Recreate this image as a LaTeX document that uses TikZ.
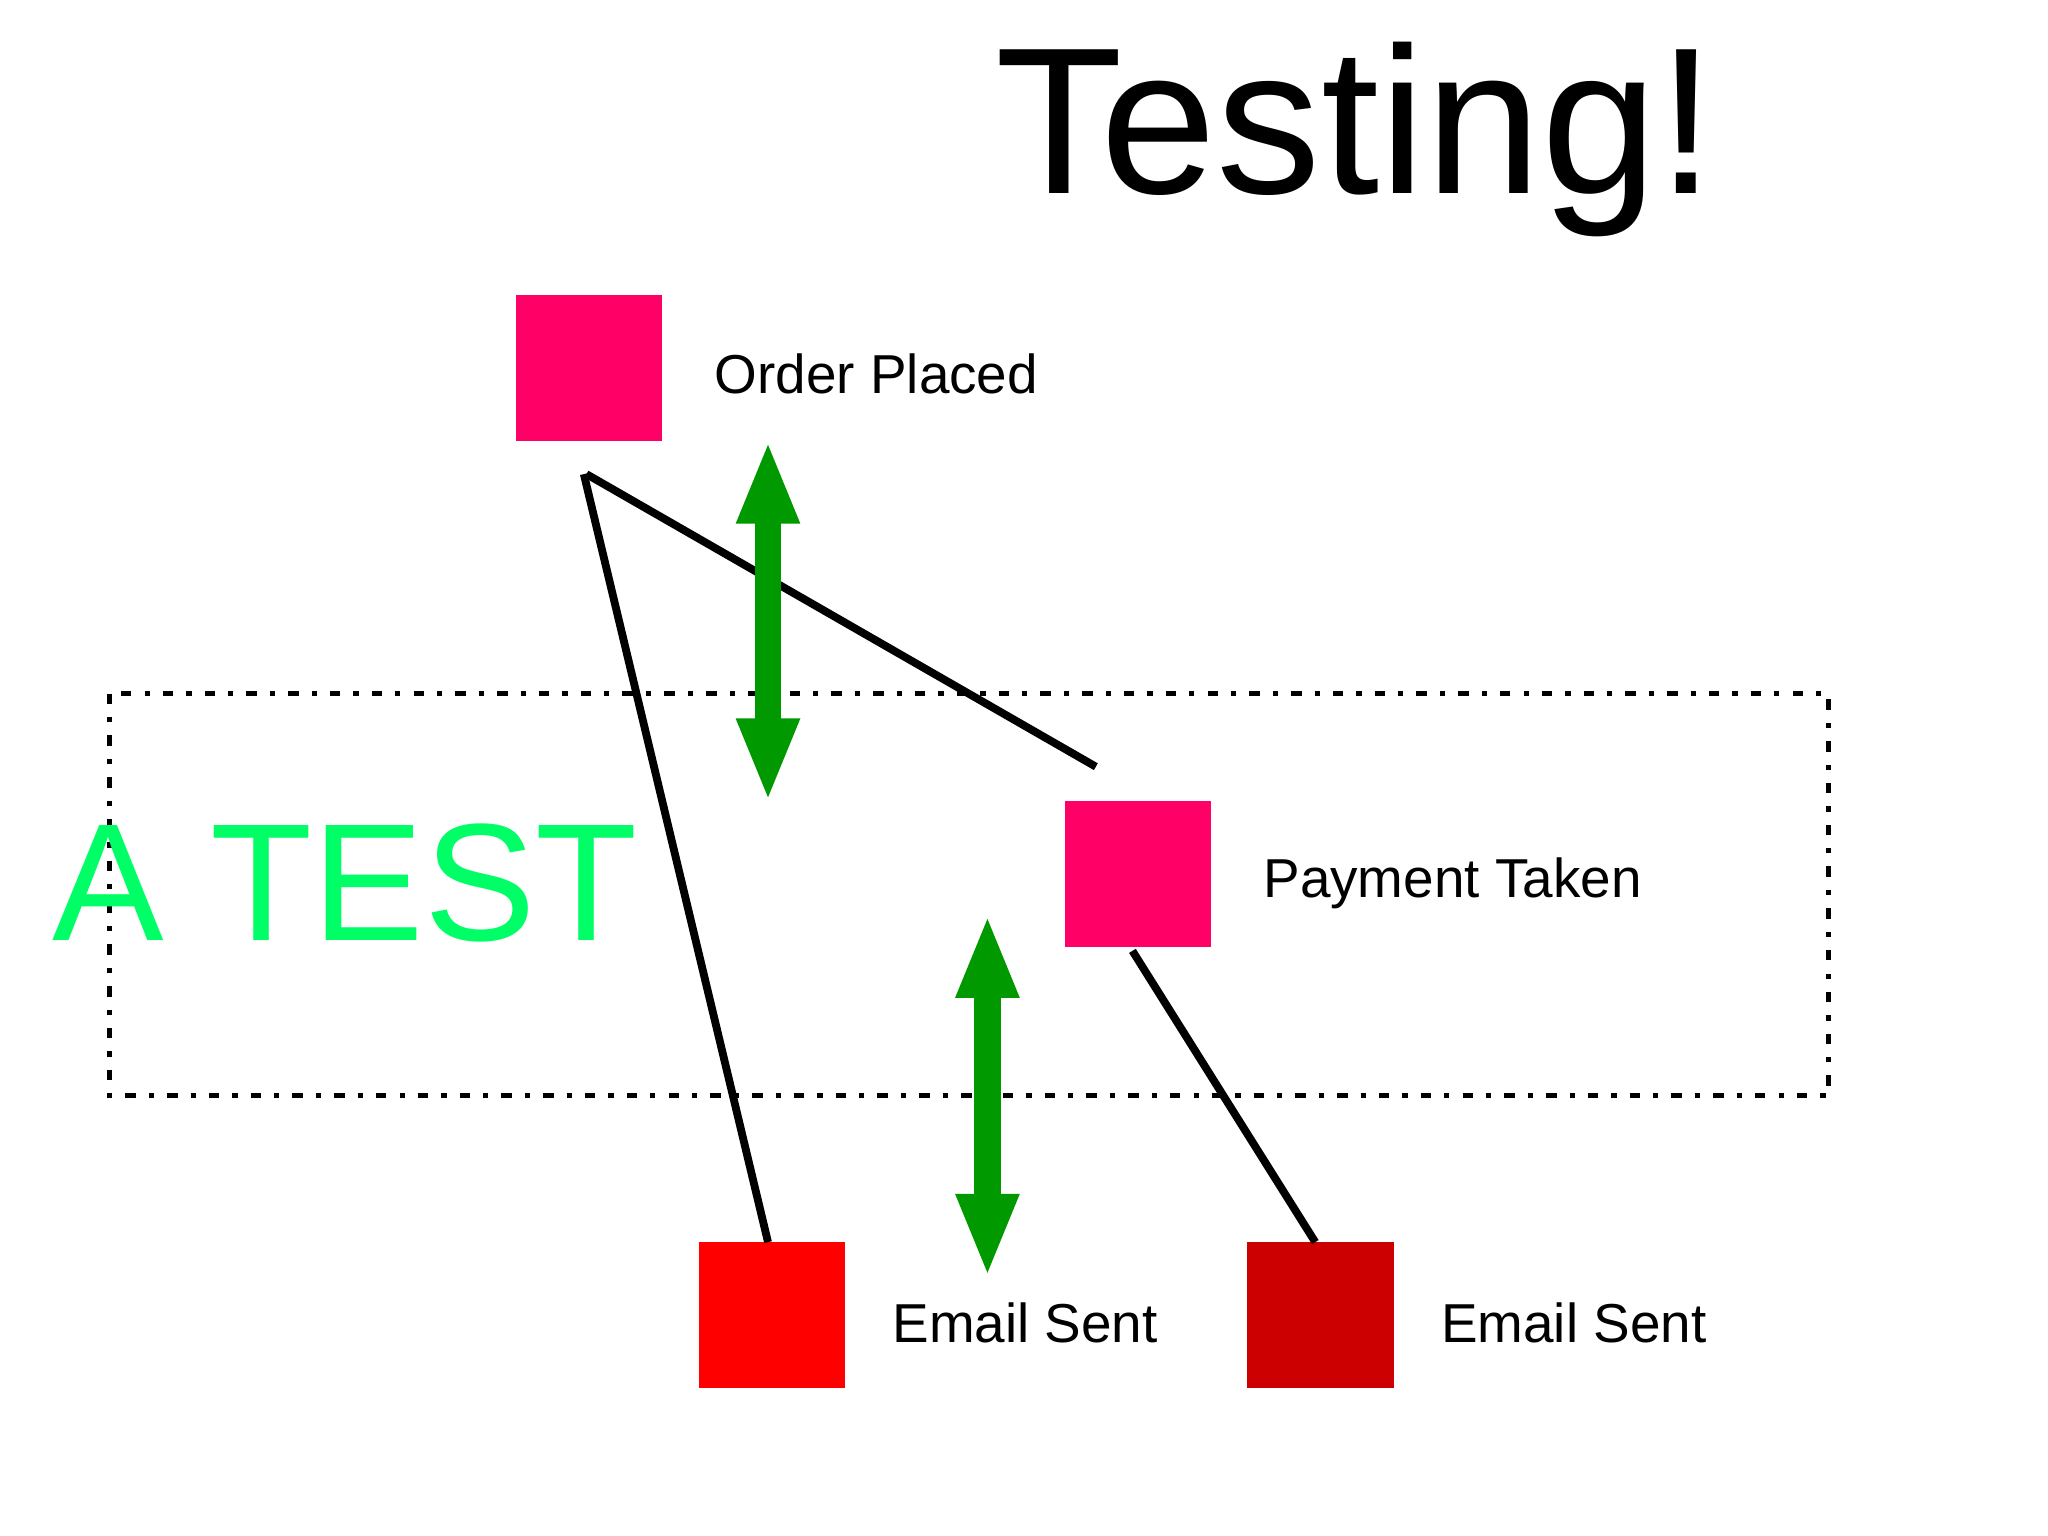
\documentclass[tikz,border=0pt]{standalone}
\usepackage{fontspec}
\setmainfont{Liberation Sans}
\usetikzlibrary{arrows.meta}
\definecolor{pinkbox}{HTML}{FF0066}
\definecolor{redbox}{HTML}{FF0000}
\definecolor{darkbox}{HTML}{CC0000}
\definecolor{garrow}{HTML}{009900}
\definecolor{gtext}{HTML}{00FF66}
\begin{document}
\begin{tikzpicture}[x=0.02cm,y=-0.02cm,
  sq/.style={minimum size=2.24cm,inner sep=0,outer sep=0,anchor=north west},
  lbl/.style={anchor=west,inner sep=0,font=\fontsize{0.84cm}{1cm}\selectfont},
  conn/.style={line width=0.12cm},
  garr/.style={garrow,line width=0.4cm,{Triangle[length=1.28cm,width=0.88cm]}-{Triangle[length=1.28cm,width=0.88cm]}}]
\fill[white] (0,0) rectangle (1568,1176);
\node[inner sep=0,anchor=base] (title) at (1038,148) {\fontsize{3.2cm}{3.6cm}\selectfont Testing!};
\draw[line width=0.08cm,dash pattern=on 0.16cm off 0.2cm on 0.08cm off 0.2cm] (84,531) rectangle (1400,839);
\node[inner sep=0,anchor=base west,text=gtext] (atest) at (40,720) {\fontsize{2.56cm}{3cm}\selectfont A TEST};
\node[sq,fill=pinkbox] (op) at (395,226) {};
\node[sq,fill=pinkbox] (pt) at (815,613) {};
\node[sq,fill=redbox] (e1) at (535,951) {};
\node[sq,fill=darkbox] (e2) at (955,951) {};
\node[lbl] (opl) at (547,286) {Order Placed};
\node[lbl] (ptl) at (967,676) {Payment Taken};
\node[lbl] (e1l) at (683,1013) {Email Sent};
\node[lbl] (e2l) at (1103,1013) {Email Sent};
\coordinate (c1) at (449,363);
\coordinate (c2) at (839,587);
\coordinate (c3) at (447,363);
\coordinate (c4) at (588,951);
\coordinate (c5) at (867,728);
\coordinate (c6) at (1007,951);
\draw[conn] (c1) -- (c2);
\draw[conn] (c3) -- (c4);
\draw[conn] (c5) -- (c6);
\coordinate (a1) at (588,337);
\coordinate (a2) at (588,614);
\coordinate (a3) at (756,700);
\coordinate (a4) at (756,978);
\draw[garr] (a1) -- (a2);
\draw[garr] (a3) -- (a4);
\end{tikzpicture}
\end{document}
